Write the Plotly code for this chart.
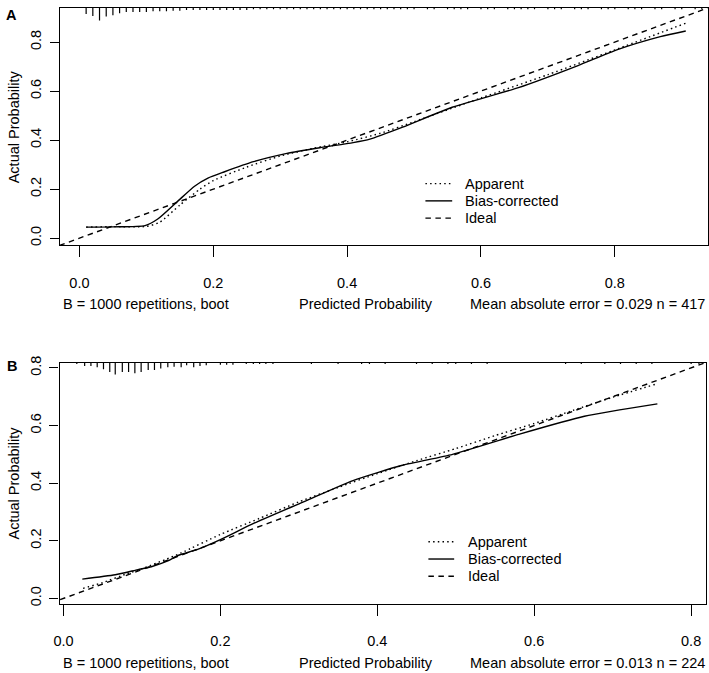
import plotly.graph_objects as go

W, H = 709, 673

# ---------------- Panel A data ----------------
a_bias_x = [0.01, 0.05, 0.098, 0.117, 0.147, 0.172, 0.192, 0.216, 0.26, 0.31, 0.359, 0.409,
            0.434, 0.483, 0.557, 0.656, 0.745, 0.804, 0.868, 0.906]
a_bias_y = [0.045, 0.046, 0.051, 0.078, 0.151, 0.212, 0.245, 0.27, 0.312, 0.346, 0.369, 0.39,
            0.404, 0.453, 0.534, 0.614, 0.704, 0.769, 0.822, 0.845]
a_app_x = [0.01, 0.05, 0.1, 0.12, 0.15, 0.18, 0.2, 0.25, 0.3, 0.35, 0.4, 0.45, 0.5, 0.6, 0.7,
           0.8, 0.906]
a_app_y = [0.045, 0.047, 0.048, 0.065, 0.135, 0.2, 0.235, 0.29, 0.335, 0.367, 0.393, 0.428,
           0.475, 0.572, 0.667, 0.768, 0.877]
a_rug_x = [0.01, 0.02, 0.03, 0.04, 0.05, 0.06, 0.07, 0.08, 0.09, 0.10, 0.11, 0.12, 0.13, 0.14,
           0.15, 0.16, 0.17, 0.18, 0.19, 0.20, 0.21, 0.22, 0.23, 0.24, 0.25, 0.26, 0.27, 0.28,
           0.29, 0.30, 0.31, 0.32, 0.33, 0.34, 0.35, 0.36, 0.37, 0.38, 0.39, 0.40, 0.41, 0.42,
           0.43, 0.44, 0.45, 0.46, 0.47, 0.48, 0.49, 0.50, 0.52, 0.53, 0.55, 0.56, 0.57, 0.58,
           0.60, 0.61, 0.62, 0.64, 0.65, 0.66, 0.67, 0.68, 0.70, 0.71, 0.72, 0.74, 0.75, 0.76,
           0.78, 0.79, 0.80, 0.82, 0.83, 0.84, 0.86, 0.87, 0.89, 0.90, 0.92, 0.93]
a_rug_n = [9, 12, 19, 13, 11, 8, 6, 6, 6, 6, 5, 5, 5, 4, 4, 3, 3, 3, 3, 3, 3, 3, 3, 3, 3, 2, 2,
           2, 2, 2, 2, 2, 2, 2, 2, 2, 2, 2, 2, 2, 2, 2, 2, 2, 2, 2, 2, 2, 2, 2, 2, 2, 2, 2, 2,
           2, 2, 2, 2, 2, 2, 2, 2, 2, 2, 2, 2, 2, 2, 2, 2, 2, 2, 2, 2, 2, 2, 2, 2, 2, 2, 2]

# ---------------- Panel B data ----------------
b_bias_x = [0.024, 0.066, 0.095, 0.112, 0.133, 0.146, 0.171, 0.2, 0.243, 0.306, 0.369, 0.432,
            0.496, 0.58, 0.664, 0.757]
b_bias_y = [0.067, 0.082, 0.1, 0.11, 0.13, 0.149, 0.17, 0.204, 0.261, 0.335, 0.409, 0.462,
            0.5, 0.569, 0.632, 0.675]
b_app_x = [0.025, 0.05, 0.08, 0.1, 0.13, 0.15, 0.2, 0.25, 0.3, 0.35, 0.4, 0.45, 0.5, 0.55, 0.6,
           0.65, 0.7, 0.757]
b_app_y = [0.035, 0.055, 0.085, 0.103, 0.135, 0.158, 0.222, 0.278, 0.335, 0.385, 0.433, 0.478,
           0.52, 0.565, 0.607, 0.653, 0.698, 0.745]
b_rug_x = [0.017, 0.027, 0.035, 0.043, 0.051, 0.059, 0.066, 0.075, 0.083, 0.091, 0.099, 0.108,
           0.116, 0.124, 0.133, 0.141, 0.15, 0.157, 0.166, 0.174, 0.182, 0.2, 0.208, 0.216,
           0.233, 0.242, 0.25, 0.258, 0.267, 0.316, 0.35, 0.38, 0.39, 0.41, 0.45, 0.47, 0.49,
           0.5, 0.52, 0.54, 0.64, 0.66, 0.69, 0.71, 0.73, 0.75, 0.8, 0.81]
b_rug_n = [2, 5, 5, 7, 10, 14, 18, 14, 14, 16, 14, 11, 11, 9, 7, 6, 7, 4, 7, 5, 4, 3, 3, 3,
           2, 2, 2, 2, 2, 2, 2, 2, 2, 2, 2, 2, 2, 2, 2, 2, 2, 2, 2, 2, 2, 2, 2, 2]

ideal_x = [-0.1, 1.1]
ideal_y = [-0.1, 1.1]

tick_vals = [0.0, 0.2, 0.4, 0.6, 0.8]
tick_text = ["0.0", "0.2", "0.4", "0.6", "0.8"]

texts_a = ["B = 1000 repetitions, boot", "Predicted Probability",
           "Mean absolute error = 0.029 n = 417"]
texts_b = ["B = 1000 repetitions, boot", "Predicted Probability",
           "Mean absolute error = 0.013 n = 224"]
legend_labels = ["Apparent", "Bias-corrected", "Ideal"]

# ---------------- layout geometry (pixels) ----------------
A_RANGE_X = [-0.029, 0.9385]
A_RANGE_Y = [-0.029, 0.939]
B_RANGE_X = [-0.005, 0.819]
B_RANGE_Y = [-0.019, 0.818]

FONT = "Liberation Sans, Arial, sans-serif"
FS = 14.5
LW = 1.4
DOT = "1.5px,3.2px"
DASH = "5.5px,4.5px"


def px(x):
    return x / W


def py(y):
    return 1 - y / H


fig = go.Figure()


def add_panel(xa, ya, bias_x, bias_y, app_x, app_y, rug_x, rug_n, yrange, rug_max_len):
    fig.add_trace(go.Scatter(x=ideal_x, y=ideal_y, mode="lines", xaxis=xa, yaxis=ya,
                             line=dict(color="black", width=LW, dash=DASH),
                             showlegend=False, hoverinfo="skip"))
    fig.add_trace(go.Scatter(x=app_x, y=app_y, mode="lines", xaxis=xa, yaxis=ya,
                             line=dict(color="black", width=LW, dash=DOT, shape="spline",
                                       smoothing=0.6),
                             showlegend=False))
    fig.add_trace(go.Scatter(x=bias_x, y=bias_y, mode="lines", xaxis=xa, yaxis=ya,
                             line=dict(color="black", width=LW, shape="spline", smoothing=0.6),
                             showlegend=False))
    top = yrange[1]
    nmax = max(rug_n)
    rx, ry = [], []
    for xv, n in zip(rug_x, rug_n):
        rx += [xv, xv, None]
        ry += [top, top - n / nmax * rug_max_len, None]
    fig.add_trace(go.Scatter(x=rx, y=ry, mode="lines", xaxis=xa, yaxis=ya,
                             line=dict(color="black", width=1.2),
                             showlegend=False, hoverinfo="skip"))


# rug max length: ~12.7px in A (248.5 px/unit), ~12px in B (292 px/unit)
add_panel("x", "y", a_bias_x, a_bias_y, a_app_x, a_app_y, a_rug_x, a_rug_n, A_RANGE_Y, 12.7 / 248.5)
add_panel("x2", "y2", b_bias_x, b_bias_y, b_app_x, b_app_y, b_rug_x, b_rug_n, B_RANGE_Y, 12.0 / 292)

axis_common = dict(showline=True, mirror=True, linecolor="black", linewidth=1.3,
                   ticks="outside", tickcolor="black", tickwidth=1.3,
                   tickvals=tick_vals, ticktext=tick_text, showgrid=False, zeroline=False,
                   tickfont=dict(family=FONT, size=FS, color="black"))

fig.update_layout(
    width=W, height=H, margin=dict(l=0, r=0, t=0, b=0),
    paper_bgcolor="white", plot_bgcolor="white", showlegend=False,
    xaxis=dict(domain=[px(54.5), px(707.5)], range=A_RANGE_X, anchor="y", ticklen=11,
               ticklabelstandoff=13, **axis_common),
    yaxis=dict(domain=[py(241.5), py(1)], range=A_RANGE_Y, anchor="x", ticklen=9,
               tickangle=-90, ticklabelstandoff=3, **axis_common),
    xaxis2=dict(domain=[px(54), px(706)], range=B_RANGE_X, anchor="y2", ticklen=11,
                ticklabelstandoff=13, **axis_common),
    yaxis2=dict(domain=[py(605), py(360.5)], range=B_RANGE_Y, anchor="x2", ticklen=9,
                tickangle=-90, ticklabelstandoff=3, **axis_common),
)

ann = []


def text(x, y, s, xanchor="center", angle=0, bold=False):
    ann.append(dict(x=px(x), y=py(y), xref="paper", yref="paper", text=f"<b>{s}</b>" if bold else s,
                    showarrow=False, xanchor=xanchor, yanchor="middle", textangle=angle,
                    font=dict(family=FONT, size=FS, color="black")))


shapes = []


def legend(x0, x1, xt, ys):
    styles = [DOT, "solid", DASH]
    for lab, st, yy in zip(legend_labels, styles, ys):
        shapes.append(dict(type="line", xref="paper", yref="paper", x0=px(x0), x1=px(x1),
                           y0=py(yy), y1=py(yy), line=dict(color="black", width=LW, dash=st)))
        text(xt, yy, lab, xanchor="left")


# panel A
text(6, 8, "A", bold=True)
text(8, 121, "Actual Probability", angle=-90)
text(55, 301.5, texts_a[0], xanchor="left")
text(363.5, 301.5, texts_a[1])
text(707, 301.5, texts_a[2], xanchor="right")
legend(423, 450, 461, [179, 196.5, 214])

# panel B
text(6, 364, "B", bold=True)
text(8, 482, "Actual Probability", angle=-90)
text(55, 665, texts_b[0], xanchor="left")
text(363.5, 665, texts_b[1])
text(707, 665, texts_b[2], xanchor="right")
legend(426, 452, 464, [542, 559.5, 577])

fig.update_layout(annotations=ann, shapes=shapes)

fig.write_html("out.html", config={"displayModeBar": False},
               post_script="document.body.style.margin='0';document.body.style.overflow='hidden';")
